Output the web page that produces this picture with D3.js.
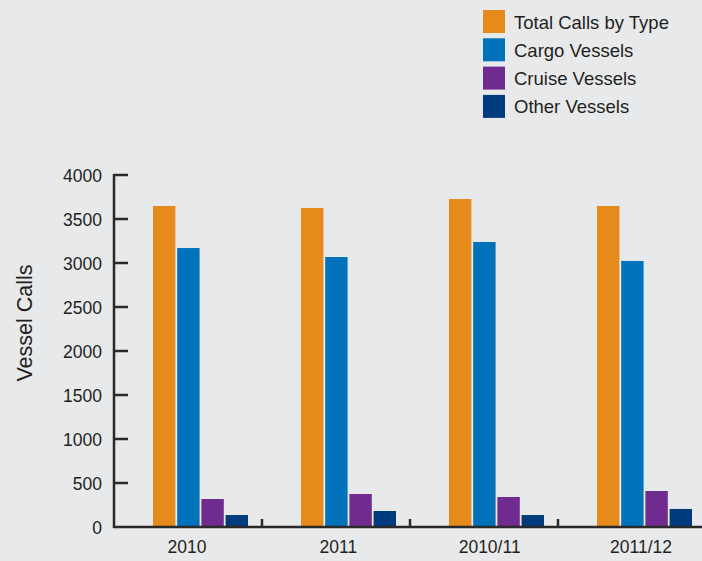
<!DOCTYPE html>
<html>
<head>
<meta charset="utf-8">
<script src="https://cdn.jsdelivr.net/npm/d3@7"></script>
<style>
  html, body { margin: 0; padding: 0; background: #e8e9eb; }
  svg { display: block; font-family: "Liberation Sans", Arial, sans-serif; }
</style>
</head>
<body>
<svg id="chart" width="702" height="561"></svg>
<script>
// Vessel calls by period and vessel type
const categories = ["2010", "2011", "2010/11", "2011/12"];
const seriesNames = ["Total Calls by Type", "Cargo Vessels", "Cruise Vessels", "Other Vessels"];
const totalCalls = [3648, 3625, 3727, 3648];
const cargoVessels = [3170, 3068, 3239, 3023];
const cruiseVessels = [318, 375, 341, 409];
const otherVessels = [136, 182, 136, 205];
const yTicks = [0, 500, 1000, 1500, 2000, 2500, 3000, 3500, 4000];
const colors = ["#e68a1c", "#0071bb", "#6f2b8f", "#003b7e"];

const series = [totalCalls, cargoVessels, cruiseVessels, otherVessels];

const svg = d3.select("#chart");
const W = 702, H = 561;
svg.append("rect").attr("width", W).attr("height", H).attr("fill", "#e8e9eb");

const left = 114, baseY = 527, topY = 175;
const ink = "#2a2a2a";

const y = d3.scaleLinear().domain([0, 4000]).range([baseY, topY]);
const x = d3.scaleBand().domain(categories).range([left, left + 148 * 4]).paddingInner(0).paddingOuter(0);
const xs = d3.scaleBand().domain(d3.range(seriesNames.length)).range([39, 134]).paddingInner(0.075).paddingOuter(0);
const xLabel = d3.scalePoint().domain(categories).range([187, 641]);

// bars
const groups = svg.append("g").selectAll("g")
  .data(categories)
  .join("g")
  .attr("transform", d => `translate(${x(d)},0)`);

groups.selectAll("rect")
  .data((c, i) => series.map((s, k) => ({ k, v: s[i] })))
  .join("rect")
  .attr("x", d => xs(d.k))
  .attr("width", xs.bandwidth())
  .attr("y", d => y(d.v))
  .attr("height", d => baseY - y(d.v))
  .attr("fill", d => colors[d.k]);

// y axis
const yAxis = svg.append("g");
yAxis.append("line")
  .attr("x1", left).attr("x2", left)
  .attr("y1", y(4000) - 1).attr("y2", baseY + 1)
  .attr("stroke", ink).attr("stroke-width", 2.5);
yAxis.selectAll("line.tick")
  .data(yTicks.filter(t => t > 0))
  .join("line")
  .attr("class", "tick")
  .attr("x1", left).attr("x2", left + 14)
  .attr("y1", d => y(d)).attr("y2", d => y(d))
  .attr("stroke", ink).attr("stroke-width", 2.5);
yAxis.selectAll("text")
  .data(yTicks)
  .join("text")
  .attr("x", 102)
  .attr("y", d => y(d) + 6.5)
  .attr("text-anchor", "end")
  .attr("font-size", 17.5)
  .attr("fill", "#231f20")
  .text(d => d);

// x axis
const xAxis = svg.append("g");
xAxis.append("line")
  .attr("x1", left - 1).attr("x2", W)
  .attr("y1", baseY).attr("y2", baseY)
  .attr("stroke", ink).attr("stroke-width", 2.5);
xAxis.selectAll("line.tick")
  .data(categories.slice(1))
  .join("line")
  .attr("class", "tick")
  .attr("x1", d => x(d)).attr("x2", d => x(d))
  .attr("y1", baseY - 8).attr("y2", baseY)
  .attr("stroke", ink).attr("stroke-width", 2.5);
xAxis.selectAll("text")
  .data(categories)
  .join("text")
  .attr("x", d => xLabel(d))
  .attr("y", 553)
  .attr("text-anchor", "middle")
  .attr("font-size", 17.5)
  .attr("fill", "#231f20")
  .text(d => d);

// y axis title
svg.append("text")
  .attr("transform", "translate(32,323) rotate(-90)")
  .attr("text-anchor", "middle")
  .attr("font-size", 21.5)
  .attr("fill", "#231f20")
  .text("Vessel Calls");

// legend
const legend = svg.append("g").selectAll("g")
  .data(seriesNames)
  .join("g")
  .attr("transform", (d, i) => `translate(483,${10 + i * 28.3})`);
legend.append("rect")
  .attr("width", 22).attr("height", 23)
  .attr("fill", (d, i) => colors[i]);
legend.append("text")
  .attr("x", 31).attr("y", 18.5)
  .attr("font-size", 18.5)
  .attr("fill", "#231f20")
  .text(d => d);
</script>
</body>
</html>
